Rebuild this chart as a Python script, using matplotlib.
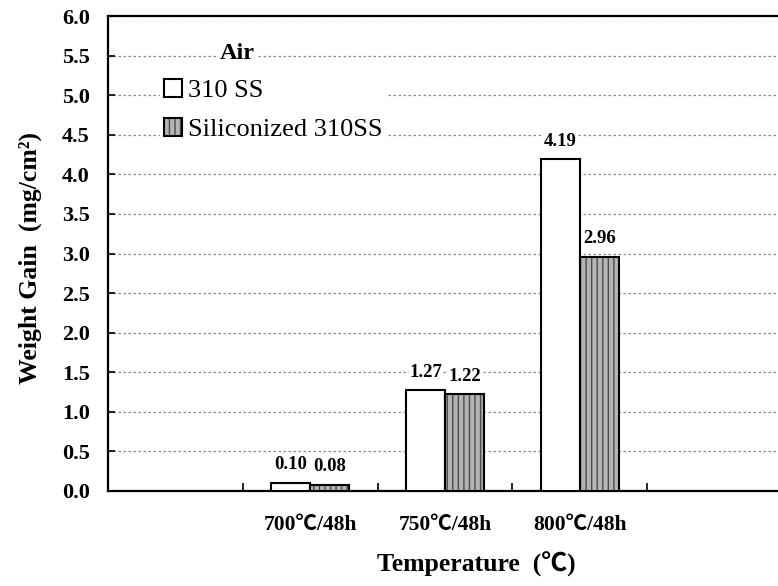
import matplotlib
matplotlib.use("Agg")
import matplotlib.pyplot as plt
import numpy as np

categories = ["", "700℃/48h", "750℃/48h", "800℃/48h", ""]
ss310 = [np.nan, 0.10, 1.27, 4.19, np.nan]
sil310 = [np.nan, 0.08, 1.22, 2.96, np.nan]
ss310_labels = ["", "0.10", "1.27", "4.19", ""]
sil310_labels = ["", "0.08", "1.22", "2.96", ""]
yticks = [0.0, 0.5, 1.0, 1.5, 2.0, 2.5, 3.0, 3.5, 4.0, 4.5, 5.0, 5.5, 6.0]
series_names = ["310 SS", "Siliconized 310SS"]

FAM = ["Liberation Serif", "Noto Sans CJK SC", "DejaVu Serif"]
plt.rcParams['font.family'] = FAM

fig = plt.figure(figsize=(7.78, 5.86), dpi=100)
ax = fig.add_axes([108/778, 1-491/586, 674/778, 475/586])

x = np.arange(len(categories))
w = 0.29
off = 0.145

b1 = ax.bar(x - off, ss310, w, facecolor="white", edgecolor="black", linewidth=1.5, zorder=3)
b2h = ax.bar(x + off, sil310, w, facecolor="#b4b4b4", edgecolor="#4a4a4a", hatch="|||", linewidth=0, zorder=3)
b2 = ax.bar(x + off, sil310, w, fill=False, edgecolor="black", linewidth=1.5, zorder=4)

for i in range(len(x)):
    if ss310_labels[i]:
        ax.annotate(ss310_labels[i], (x[i] - off, ss310[i]), xytext=(0, 7), textcoords="offset points",
                    ha="center", va="bottom", fontsize=13.5, fontweight="bold", zorder=5,
                    bbox=dict(facecolor="white", edgecolor="none", pad=0.3))
    if sil310_labels[i]:
        ax.annotate(sil310_labels[i], (x[i] + off, sil310[i]), xytext=(0, 7), textcoords="offset points",
                    ha="center", va="bottom", fontsize=13.5, fontweight="bold", zorder=5,
                    bbox=dict(facecolor="white", edgecolor="none", pad=0.3))

ax.set_xlim(-0.5, 4.5)
ax.set_ylim(0, 6.0)
ax.set_yticks(yticks)
ax.set_yticklabels([f"{v:.1f}" for v in yticks], fontsize=16, fontweight="bold")
ax.set_xticks(x)
ax.set_xticklabels(categories, fontsize=15.5, fontweight="bold")
ax.tick_params(axis="x", which="major", length=0, pad=17)
ax.set_xticks(np.arange(-0.5, 4.6, 1.0), minor=True)
ax.tick_params(axis="x", which="minor", direction="in", length=6, width=1.2)
ax.tick_params(axis="y", direction="in", length=5, width=1.2, pad=13)

ax.yaxis.grid(True, linestyle=(0, (2, 2)), color="#8a8a8a", linewidth=0.9, zorder=0)
ax.set_axisbelow(True)

for s in ["left", "bottom", "top"]:
    ax.spines[s].set_linewidth(1.6)
ax.spines["right"].set_visible(False)

ax.set_ylabel("Weight Gain  (mg/cm²)", fontsize=18.5, fontweight="bold")
ax.yaxis.set_label_coords(-0.098, 0.49)
ax.set_xlabel("Temperature  (℃)", fontsize=18.5, fontweight="bold")
ax.xaxis.set_label_coords(0.546, -0.128)

ax.text(0.166, 0.922, "Air", transform=ax.transAxes, fontsize=17.5, fontweight="bold",
        ha="left", va="center", zorder=6, bbox=dict(facecolor="white", edgecolor="none", pad=1))

leg = ax.legend([b1[1], (b2h[1], b2[1])], series_names, loc="upper left",
                bbox_to_anchor=(0.077, 0.876), fontsize=19, frameon=True, framealpha=1,
                edgecolor="none", facecolor="white", borderpad=0.15, borderaxespad=0,
                handlelength=0.68, handleheight=0.68, handletextpad=0.22, labelspacing=0.6,
                fancybox=False)
leg.set_zorder(6)

fig.savefig("out.png", dpi=100)
